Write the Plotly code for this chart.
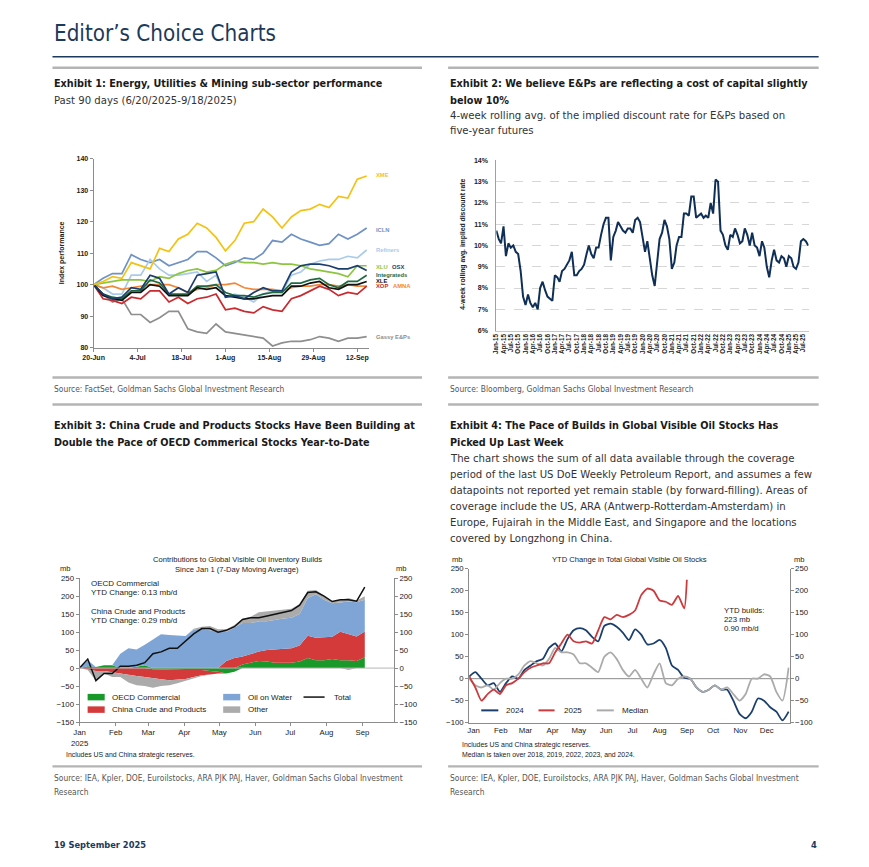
import subprocess
import pandas as pd
import plotly.graph_objects as go

# ---------------------------------------------------------------- fonts
def font_available(name):
    try:
        out = subprocess.run(["fc-list", ":", "family"], capture_output=True,
                             text=True, timeout=10).stdout
    except Exception:
        return False
    fams = set()
    for line in out.splitlines():
        for f in line.split(","):
            fams.add(f.strip().lower())
    return name.lower() in fams

if font_available("Liberation Sans Narrow"):
    COND, CS = "Liberation Sans Narrow", 1.0
elif font_available("DejaVu Sans Condensed"):
    COND, CS = "DejaVu Sans Condensed", 0.84
else:
    COND, CS = "Roboto", 0.86
CHART = "Liberation Sans, Arial, sans-serif"

# ---------------------------------------------------------------- data
# Exhibit 1 : index performance, every 3 days from 20-Jun-2025
e1_start = "2025-06-20"
xme = [100, 101, 102.5, 102, 107, 106, 105, 111.5, 110.5, 114.5, 116, 119.5, 118, 115, 110.7,
       114, 119.5, 120, 124, 121.5, 118, 121.5, 123.5, 124, 125.5, 124.5, 128, 127.5, 133.5, 134.5]
icln = [100, 102, 103.5, 103.5, 109.5, 108, 107, 108, 106, 107, 108, 110.5, 110.5, 108.5, 106,
        107, 108.5, 108, 110, 114, 113.5, 116, 114.5, 113.5, 112.5, 113, 116, 114.5, 116, 118]
refiners = [100, 99, 97, 97, 103, 103, 108, 105, 103, 103, 103.5, 104, 101, 103, 96,
            97, 96, 94.5, 97, 98, 97.5, 103, 104, 106.5, 107.5, 108, 108, 109, 108.5, 111]
xlu = [100, 100.5, 101, 101.5, 101.5, 101.5, 101, 102.5, 102, 103.5, 104.5, 105, 104, 104.5, 106.5,
       107.5, 107, 107, 106.5, 107, 106.5, 106.5, 106, 105, 104.5, 104, 103.5, 102.5, 106, 106]
osx = [100, 97, 95.5, 96, 99, 98.5, 103, 102, 97, 99, 97.5, 103, 103.5, 104, 96,
       96.5, 95.5, 97.5, 99, 98, 98, 104, 106, 106.5, 106.5, 106, 105, 105, 106, 104.5]
integrateds = [100, 97, 96, 95.5, 98, 98, 101.5, 100.5, 97, 97, 97, 99.5, 99.5, 100, 97.5,
               96.5, 96.5, 96, 97, 97.5, 97.5, 100.5, 100.5, 101.5, 102, 100, 99, 101, 101, 103]
xle = [100, 96.5, 95.5, 95, 97.5, 97.5, 100, 99.5, 96.5, 96.5, 96.5, 99, 98.5, 99, 96.5,
       96, 95.5, 95.5, 96, 96.5, 96.5, 99.5, 99.5, 100.5, 101, 99, 98.5, 100, 100, 101]
xop = [100, 95.5, 95, 94, 96, 95.5, 98, 98, 94.5, 96, 94, 95.5, 96, 97, 92,
       92.5, 91.5, 91, 93, 92, 91.5, 95.5, 96.5, 98, 99.5, 98.5, 96.5, 97.5, 97, 99.5]
amna = [100, 99, 99.5, 98.5, 99, 99.5, 100, 100, 100, 99, 97.5, 98.5, 99, 100, 100,
        100.5, 99, 98.5, 98.5, 98.5, 98, 99, 99.5, 99.5, 100, 100, 99.5, 100, 99.5, 99.5]
gassy = [100, 97, 94.5, 95.5, 90.5, 90.5, 88, 89.5, 91.5, 91.5, 86, 85, 84.5, 87.5, 85,
         84.5, 84, 83.5, 83, 80.5, 81.5, 82, 82, 82.5, 83.5, 83, 82, 83, 83, 83.5]
e1_names = ["XME", "ICLN", "Refiners", "XLU", "OSX", "Integrateds", "XLE", "XOP", "AMNA", "Gassy E&Ps"]
e1_label_values = [134.9, 117.5, 111.1, 105.5, 105.5, 103.2, 101.0, 99.5, 99.5, 83.3]

# Exhibit 2 : monthly 4-week rolling implied discount rate (%), Jan-15 .. Sep-25
e2_start = "2015-01-01"
discount_rate = [
    10.7, 10.3, 10.1, 10.9, 9.5, 10.1, 9.9, 10.0, 9.7, 9.6, 8.8, 7.6,
    7.2, 7.7, 7.3, 7.1, 7.3, 7.0, 8.0, 8.3, 7.9, 7.6, 7.5, 7.4,
    8.6, 8.5, 8.3, 8.8, 8.9, 9.1, 9.3, 9.7, 8.6, 8.6, 8.8, 8.9,
    9.1, 9.6, 10.0, 9.6, 9.4, 9.9, 9.9, 10.5, 11.0, 11.3, 11.3, 9.3,
    10.4, 10.7, 11.1, 10.9, 10.7, 10.6, 10.8, 10.8, 10.6, 11.2, 11.3, 11.1,
    10.3, 9.7, 10.2, 9.3, 8.6, 8.1, 9.2, 10.3, 10.6, 11.2, 10.9, 10.3,
    8.9, 9.2, 10.0, 10.4, 10.4, 11.5, 11.5, 11.4, 12.3, 12.3, 11.3, 11.4,
    11.5, 11.3, 11.4, 11.3, 12.0, 11.5, 13.1, 13.0, 10.7, 10.5, 10.0, 9.8,
    10.5, 10.4, 10.8, 10.5, 10.1, 10.2, 10.8, 10.5, 10.0, 10.6, 10.0, 9.9,
    9.5, 10.2, 9.9, 9.0, 8.5, 9.3, 9.8, 9.3, 9.2, 9.5, 9.4, 9.0,
    9.5, 9.4, 9.0, 8.9, 9.2, 10.2, 10.3, 10.2, 10.0]

# Exhibit 3 : weekly contributions since Jan 1 2025 (mb)
e3_start = "2025-01-01"
oecd = [0, 5, 3, 8, 8, 0, 0, 5, 8, -3, -4, -4, -4, -5, -5, -5, -8, -10, -15, -10,
        10, 15, 20, 18, 15, 15, 15, 18, 28, 22, 22, 25, 22, 22, 20, 30]
china = [0, -3, -8, -8, -12, -15, -20, -22, -25, -26, -27, -30, -28, -25, -20, -15, -10, -5, 20, 28,
         22, 25, 26, 32, 37, 38, 40, 45, 62, 62, 64, 62, 79, 72, 68, 72]
oil_on_water = [0, 17, 0, 0, 0, 40, 55, 47, 57, 80, 94, 92, 90, 89, 107, 110, 105, 100, 80, 84,
                93, 85, 84, 80, 83, 85, 85, 87, 105, 121, 104, 93, 81, 91, 95, 88]
other_up = [0, 0, 0, 0, 0, 0, 0, 0, 0, 0, 0, 0, 0, 0, 2, 5, 12, 8, 8, 8,
            12, 18, 25, 28, 25, 25, 25, 28, 20, 12, 12, 5, 8, 10, 5, 10]
other_down = [0, -2, -27, -7, -13, -10, -20, -26, -25, -26, -19, -14, -10, -5, -3, -2, 0, 0, 0, 0,
              0, 0, 0, 0, 0, 0, 0, 0, 0, 0, 0, 0, 0, -5, 0, 0]
total = [0, 25, -35, -15, -15, 5, 5, 8, 15, 40, 45, 55, 55, 75, 95, 110, 110, 100, 105, 115,
         135, 140, 140, 145, 150, 155, 160, 175, 210, 212, 200, 185, 190, 190, 186, 225]

# Exhibit 4 : YTD change in total global visible oil stocks (mb), weekly by day of year
y2024 = [5, 15, 0, -15, -10, -30, -10, 5, 0, 20, 30, 40, 45, 70, 80, 62, 90, 110, 115, 110,
         95, 85, 120, 125, 118, 105, 88, 112, 100, 78, 80, 88, 70, 30, 20, 2, 0, -20, -30, -25,
         -15, -25, -25, -50, -80, -90, -75, -45, -50, -65, -75, -95, -75]
y2025 = [5, -20, -50, -35, -25, -35, -15, -10, 0, 15, 25, 30, 35, 35, 60, 80, 100, 85, 82, 85,
         80, 110, 140, 135, 145, 140, 145, 155, 190, 205, 200, 178, 175, 168, 188, 160, 225]
median = [0, -15, -20, -15, -25, -10, 0, 0, 10, 30, 40, 35, 30, 45, 70, 60, 60, 55, 35, 35,
          25, 15, 50, 60, 45, 20, 5, 20, 0, -20, 10, 35, -10, -15, 0, 5, 0, -20, -30, -25,
          -15, -25, -20, -35, -50, -35, 0, 0, 10, 5, -30, -50, 25]
days_2025 = [7 * k for k in range(36)] + [248]
months = ["Jan", "Feb", "Mar", "Apr", "May", "Jun", "Jul", "Aug", "Sep", "Oct", "Nov", "Dec"]

# ---------------------------------------------------------------- helpers
# Page body keeps its default 8px margin; the figure is sized so the page
# fits the window.  Helpers map target-picture pixels to paper coordinates
# (with a small calibration of the captured picture's scale).
PAGE_OFF = 8
FW, FH = 852, 850
def X(px):
    page = (px - 11.8) / 0.983
    return (page - PAGE_OFF) / FW
def Y(py):
    page = 430 + (py - 430) / 0.99
    return 1 - (page - PAGE_OFF) / FH

annotations, shapes = [], []

def text(x, y, s, size, color="#222222", family=None, weight="normal",
         xanchor="left", yanchor="middle", angle=0):
    annotations.append(dict(x=X(x), y=Y(y), xref="paper", yref="paper", text=s,
                            showarrow=False, xanchor=xanchor, yanchor=yanchor,
                            textangle=angle,
                            font=dict(size=size, color=color, family=family or COND,
                                      weight=weight)))

def hline(x0, x1, y, color, width):
    shapes.append(dict(type="line", xref="paper", yref="paper", x0=X(x0), x1=X(x1),
                       y0=Y(y), y1=Y(y), line=dict(color=color, width=width)))

def rect(x0, x1, y0, y1, color):
    shapes.append(dict(type="rect", xref="paper", yref="paper", x0=X(x0), x1=X(x1),
                       y0=Y(y1), y1=Y(y0), fillcolor=color, line=dict(width=0)))

fig = go.Figure()

# ---------------------------------------------------------------- exhibit 1
e1_dates = pd.date_range(e1_start, periods=len(xme), freq="3D")
e1_series = [xme, icln, refiners, xlu, osx, integrateds, xle, xop, amna, gassy]
e1_colors = ["#f2c314", "#6f92c4", "#a9cbe9", "#8cc63f", "#1c3e6d", "#1f6a43",
             "#111111", "#c92a2f", "#f0883a", "#8e8e8e"]
draw_order = [9, 1, 2, 3, 8, 7, 5, 6, 4, 0]
for i in draw_order:
    fig.add_trace(go.Scatter(x=e1_dates, y=e1_series[i], mode="lines", name=e1_names[i],
                             line=dict(color=e1_colors[i], width=1.7), xaxis="x", yaxis="y",
                             showlegend=False))

# ---------------------------------------------------------------- exhibit 2
e2_dates = pd.date_range(e2_start, periods=len(discount_rate), freq="MS")
fig.add_trace(go.Scatter(x=e2_dates, y=discount_rate, mode="lines", xaxis="x2", yaxis="y2",
                         line=dict(color="#0f2f57", width=2), showlegend=False))

# ---------------------------------------------------------------- exhibit 3
e3_dates = pd.date_range(e3_start, periods=len(total), freq="7D")
e3_cols = {"oecd": "#18992a", "china": "#d43a3a", "water": "#7ea5d6", "other": "#ababab"}
pos_parts = [(oecd, e3_cols["oecd"]), (china, e3_cols["china"]),
             (oil_on_water, e3_cols["water"]), (other_up, e3_cols["other"])]
neg_parts = [(oecd, e3_cols["oecd"]), (china, e3_cols["china"]),
             (oil_on_water, e3_cols["water"]), (other_down, e3_cols["other"])]
for vals, col in pos_parts:
    fig.add_trace(go.Scatter(x=e3_dates, y=[max(v, 0) for v in vals], mode="lines",
                             stackgroup="pos", fillcolor=col, line=dict(width=0, color=col),
                             xaxis="x3", yaxis="y3", showlegend=False))
for vals, col in neg_parts:
    fig.add_trace(go.Scatter(x=e3_dates, y=[min(v, 0) for v in vals], mode="lines",
                             stackgroup="neg", fillcolor=col, line=dict(width=0, color=col),
                             xaxis="x3", yaxis="y3", showlegend=False))
fig.add_trace(go.Scatter(x=e3_dates, y=total, mode="lines", xaxis="x3", yaxis="y3",
                         line=dict(color="#111111", width=1.5), showlegend=False))
fig.add_trace(go.Scatter(x=e3_dates, y=total, mode="lines", xaxis="x3", yaxis="y5",
                         opacity=0, hoverinfo="skip", showlegend=False))
shapes.append(dict(type="line", xref="x3 domain", yref="y3", x0=0, x1=1, y0=0, y1=0,
                   line=dict(color="#b5b5b5", width=1), layer="above"))

# ---------------------------------------------------------------- exhibit 4
week_days = [7 * k for k in range(len(median))]
fig.add_trace(go.Scatter(x=week_days, y=y2024, mode="lines", xaxis="x4", yaxis="y4",
                         line=dict(color="#1b3f6c", width=1.8, shape="spline", smoothing=0.6),
                         showlegend=False))
fig.add_trace(go.Scatter(x=week_days, y=median, mode="lines", xaxis="x4", yaxis="y4",
                         line=dict(color="#ababab", width=1.8, shape="spline", smoothing=0.6),
                         showlegend=False))
fig.add_trace(go.Scatter(x=days_2025, y=y2025, mode="lines", xaxis="x4", yaxis="y4",
                         line=dict(color="#cc3a3e", width=1.8, shape="spline", smoothing=0.6),
                         showlegend=False))
fig.add_trace(go.Scatter(x=week_days, y=median, mode="lines", xaxis="x4", yaxis="y6",
                         opacity=0, hoverinfo="skip", showlegend=False))
shapes.append(dict(type="line", xref="x4 domain", yref="y4", x0=0, x1=1, y0=0, y1=0,
                   line=dict(color="#8a8a8a", width=1), layer="below"))

# ---------------------------------------------------------------- page text
NAVY = "#1b3a5c"
text(53, 33, "Editor’s Choice Charts", 26.5 * CS, NAVY)
hline(53, 816, 57, NAVY, 1.4)
for y in (68, 378, 405, 767):
    hline(53, 421, y, "#b4b4b4", 2.4)
    hline(447, 816, y, "#b4b4b4", 2.4)

HS, BS, SS = 12.8 * CS, 13.4 * CS, 10.0 * CS
text(53, 84, "Exhibit 1: Energy, Utilities & Mining sub-sector performance", HS, "#1a1a1a", weight="bold")
text(53, 101, "Past 90 days (6/20/2025-9/18/2025)", BS, "#333333")
text(447, 84, "Exhibit 2: We believe E&Ps are reflecting a cost of capital slightly", HS, "#1a1a1a", weight="bold")
text(447, 101, "below 10%", HS, "#1a1a1a", weight="bold")
text(447, 116, "4-week rolling avg. of the implied discount rate for E&Ps based on", BS, "#333333")
text(447, 131, "five-year futures", BS, "#333333")

text(53, 389, "Source: FactSet, Goldman Sachs Global Investment Research", SS, "#555555")
text(447, 389, "Source: Bloomberg, Goldman Sachs Global Investment Research", SS, "#555555")

text(53, 426, "Exhibit 3: China Crude and Products Stocks Have Been Building at", HS, "#1a1a1a", weight="bold")
text(53, 443, "Double the Pace of OECD Commerical Stocks Year-to-Date", HS, "#1a1a1a", weight="bold")
text(447, 426, "Exhibit 4: The Pace of Builds in Global Visible Oil Stocks Has", HS, "#1a1a1a", weight="bold")
text(447, 443, "Picked Up Last Week", HS, "#1a1a1a", weight="bold")
para = ["The chart shows the sum of all data available through the coverage",
        "period of the last US DoE Weekly Petroleum Report, and assumes a few",
        "datapoints not reported yet remain stable (by forward-filling). Areas of",
        "coverage include the US, ARA (Antwerp-Rotterdam-Amsterdam) in",
        "Europe, Fujairah in the Middle East, and Singapore and the locations",
        "covered by Longzhong in China."]
for i, line in enumerate(para):
    text(447, 459 + 16 * i, line, BS, "#333333")

src = "Source: IEA, Kpler, DOE, Euroilstocks, ARA PJK PAJ, Haver, Goldman Sachs Global Investment"
for x0 in (53, 447):
    text(x0, 779, src, SS, "#555555")
    text(x0, 793, "Research", SS, "#555555")

text(53, 845, "19 September 2025", 11 * CS, NAVY, weight="bold")
text(816, 845, "4", 11 * CS, NAVY, weight="bold", xanchor="right")

# ---------------------------------------------------------------- chart text
# exhibit 1
text(62, 253, "Index performance", 7, "#222222", CHART, "bold", "center", "middle", -90)
for name, val, col in zip(e1_names, e1_label_values, e1_colors):
    xpos = 373
    if name == "OSX":
        xpos = 389
    if name == "AMNA":
        xpos = 390
    ypx = 159 + (140 - val) * 189 / 60
    text(xpos, ypx, name, 5.8, col, CHART, "bold")
# exhibit 2
text(461, 245, "4-week rolling avg. implied discount rate", 6.8, "#222222", CHART, "bold",
     "center", "middle", -90)
# exhibit 3
text(237, 560, "Contributions to Global Visible Oil Inventory Builds", 7.6, "#222222", CHART, xanchor="center")
text(237, 570, "Since Jan 1 (7-Day Moving Average)", 7.6, "#222222", CHART, xanchor="center")
text(66, 569, "mb", 7.6, "#222222", CHART, xanchor="center")
text(401, 569, "mb", 7.6, "#222222", CHART, xanchor="center")
for yy, s in [(584, "OECD Commercial"), (593, "YTD Change: 0.13 mb/d"),
              (612, "China Crude and Products"), (621, "YTD Change: 0.29 mb/d")]:
    text(89, yy, s, 8, "#222222", CHART)
rect(88, 105, 694.5, 701, e3_cols["oecd"])
rect(223, 240, 694.5, 701, e3_cols["water"])
rect(88, 105, 707, 713.5, e3_cols["china"])
rect(223, 240, 707, 713.5, e3_cols["other"])
hline(303, 324, 697.7, "#111111", 1.5)
text(110, 697.7, "OECD Commercial", 8, "#222222", CHART)
text(246, 697.7, "Oil on Water", 8, "#222222", CHART)
text(331, 697.7, "Total", 8, "#222222", CHART)
text(110, 710, "China Crude and Products", 8, "#222222", CHART)
text(246, 710, "Other", 8, "#222222", CHART)
text(64, 756, "Includes US and China strategic reserves.", 6.9, "#222222", CHART)
# exhibit 4
text(628, 560, "YTD Change in Total Global Visible Oil Stocks", 7.6, "#222222", CHART, xanchor="center")
text(456, 560, "mb", 7.6, "#222222", CHART, xanchor="center")
text(797, 560, "mb", 7.6, "#222222", CHART, xanchor="center")
text(720, 611, "YTD builds:", 7.8, "#222222", CHART)
text(720, 620, "223 mb", 7.8, "#222222", CHART)
text(720, 629, "0.90 mb/d", 7.8, "#222222", CHART)
hline(480, 497, 711, "#1b3f6c", 2)
hline(537, 553, 711, "#cc3a3e", 2)
hline(595, 612, 711, "#ababab", 2)
text(503, 711, "2024", 8, "#222222", CHART)
text(560, 711, "2025", 8, "#222222", CHART)
text(618, 711, "Median", 8, "#222222", CHART)
text(459, 746, "Includes US and China strategic reserves.", 6.9, "#222222", CHART)
text(459, 755.5, "Median is taken over 2018, 2019, 2022, 2023, and 2024.", 6.9, "#222222", CHART)

# ---------------------------------------------------------------- axes
AX = "#8c8c8c"
bold7 = dict(family=CHART, size=7, color="#222222", weight="bold")
reg8 = dict(family=CHART, size=7.8, color="#222222")

e1_end = e1_dates[-1] + pd.Timedelta(hours=16)
e3_month_ticks = pd.date_range(e3_start, periods=9, freq="MS")
e4_month_starts = [0, 31, 59, 90, 120, 151, 181, 212, 243, 273, 304, 334]

fig.update_layout(
    width=FW, height=FH, margin=dict(l=0, r=0, t=0, b=0),
    paper_bgcolor="white", plot_bgcolor="rgba(0,0,0,0)",
    showlegend=False, annotations=annotations, shapes=shapes,
    xaxis=dict(domain=[X(94), X(368)], anchor="y", type="date",
               range=[e1_dates[0], e1_end], tick0=e1_start, dtick=14 * 86400000,
               tickformat="%-d-%b", showline=True, linecolor=AX, linewidth=1,
               ticks="outside", ticklen=3, tickcolor=AX, tickfont=bold7, showgrid=False,
               zeroline=False),
    yaxis=dict(domain=[Y(348), Y(159)], anchor="x", range=[80, 140], dtick=10,
               showline=True, linecolor=AX, ticks="outside", ticklen=3, tickcolor=AX,
               tickfont=bold7, showgrid=False, zeroline=False),
    xaxis2=dict(domain=[X(495), X(806)], anchor="y2", type="date",
                range=[e2_dates[0], pd.Timestamp("2025-09-05")],
                tickvals=pd.date_range(e2_start, "2025-07-01", freq="3MS"),
                tickformat="%b-%y", tickangle=-90, tickfont=dict(family=CHART, size=6.3,
                                                                 color="#222222", weight="bold"),
                showline=True, linecolor="#c8c8c8", ticks="", showgrid=False, zeroline=False),
    yaxis2=dict(domain=[Y(331), Y(160.7)], anchor="x2", range=[6, 14], dtick=1,
                ticksuffix="%", tickfont=bold7, showline=True, linecolor="#a0a0a0",
                showgrid=True, gridcolor="#d6d6d6", griddash="dash", gridwidth=1,
                ticks="", ticklabelstandoff=6, zeroline=False),
    xaxis3=dict(domain=[X(80), X(393)], anchor="y3", type="date",
                range=[pd.Timestamp(e3_start), pd.Timestamp("2025-09-28")],
                tickvals=e3_month_ticks,
                ticktext=["Jan<br>2025"] + months[1:9],
                tickfont=reg8, showline=True, linecolor=AX, ticks="outside", ticklen=3,
                tickcolor=AX, showgrid=False, zeroline=False),
    yaxis3=dict(domain=[Y(722.7), Y(578.7)], anchor="x3", range=[-150, 250], dtick=50,
                tickfont=reg8, showline=True, linecolor=AX, ticks="outside", ticklen=3,
                tickcolor=AX, showgrid=False, zeroline=False),
    yaxis5=dict(overlaying="y3", side="right", anchor="x3", range=[-150, 250], dtick=50,
                tickfont=reg8, showline=True, linecolor=AX, ticks="outside", ticklen=3,
                tickcolor=AX, showgrid=False, zeroline=False),
    xaxis4=dict(domain=[X(468), X(787)], anchor="y4", range=[0, 365],
                tickvals=[d + 5 for d in e4_month_starts], ticktext=months,
                tickfont=reg8, showline=True, linecolor=AX, ticks="", showgrid=False,
                zeroline=False),
    yaxis4=dict(domain=[Y(723.3), Y(569.3)], anchor="x4", range=[-100, 250], dtick=50,
                tickfont=reg8, showline=True, linecolor=AX, ticks="outside", ticklen=3,
                tickcolor=AX, showgrid=False, zeroline=False),
    yaxis6=dict(overlaying="y4", side="right", anchor="x4", range=[-100, 250], dtick=50,
                tickfont=reg8, showline=True, linecolor=AX, ticks="outside", ticklen=3,
                tickcolor=AX, showgrid=False, zeroline=False),
)

fig.write_html("out.html")
